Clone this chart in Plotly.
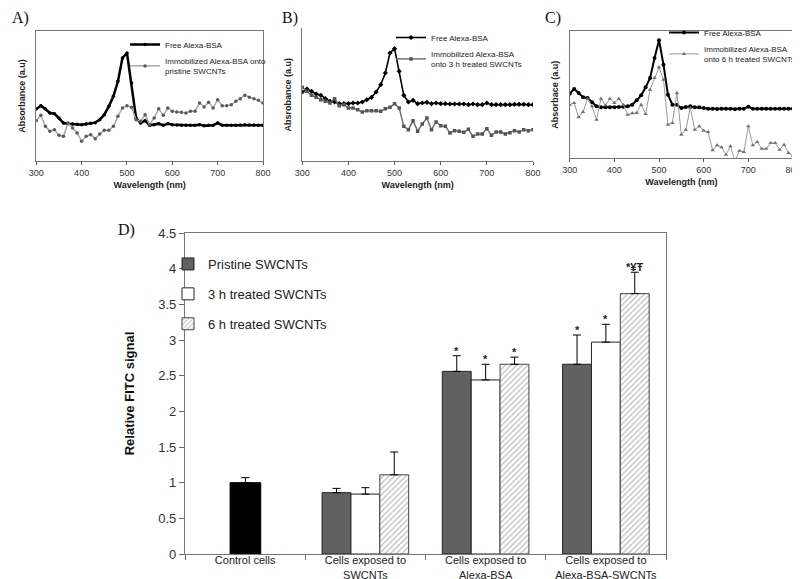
import plotly.graph_objects as go

# ---------------- data ----------------
wavelength = [300, 310, 320, 330, 340, 350, 360, 370, 380, 390, 400, 410, 420, 430, 440, 450,
              460, 470, 480, 490, 500, 510, 520, 530, 540, 550, 560, 570, 580, 590, 600, 610,
              620, 630, 640, 650, 660, 670, 680, 690, 700, 710, 720, 730, 740, 750, 760, 770,
              780, 790, 800]

free_A = [1.57, 1.67, 1.57, 1.45, 1.43, 1.30, 1.15, 1.13, 1.12, 1.11, 1.10, 1.12, 1.14, 1.16, 1.25, 1.40,
          1.65, 1.95, 2.40, 3.10, 3.25, 2.35, 1.30, 1.15, 1.22, 1.08, 1.10, 1.13, 1.08, 1.13, 1.10, 1.09,
          1.08, 1.08, 1.08, 1.08, 1.10, 1.07, 1.08, 1.08, 1.15, 1.08, 1.08, 1.08, 1.08, 1.09, 1.10, 1.09,
          1.09, 1.08, 1.08]
immob_A = [1.22, 1.38, 1.05, 0.90, 0.95, 0.78, 0.75, 1.15, 1.00, 0.85, 0.60, 0.75, 0.80, 0.68, 0.82, 0.93,
           0.93, 1.05, 1.35, 1.60, 1.67, 1.62, 1.25, 1.20, 1.40, 1.10, 1.30, 1.58, 1.38, 1.60, 1.50, 1.48,
           1.47, 1.45, 1.50, 1.50, 1.75, 1.63, 1.77, 1.60, 1.85, 1.67, 1.67, 1.70, 1.80, 1.88, 1.98, 1.92,
           1.88, 1.83, 1.75]

free_B = [2.08, 2.17, 2.10, 2.02, 1.98, 1.88, 1.80, 1.78, 1.73, 1.73, 1.73, 1.75, 1.75, 1.78, 1.85, 1.92,
          2.08, 2.30, 2.65, 3.25, 3.38, 2.70, 1.98, 1.78, 1.83, 1.73, 1.75, 1.77, 1.73, 1.75, 1.73, 1.73,
          1.72, 1.72, 1.72, 1.72, 1.70, 1.72, 1.70, 1.70, 1.75, 1.70, 1.70, 1.70, 1.70, 1.70, 1.71, 1.71,
          1.71, 1.70, 1.70]
immob_B = [2.22, 2.10, 1.98, 1.92, 1.85, 1.80, 1.75, 1.88, 1.67, 1.70, 1.60, 1.60, 1.55, 1.48, 1.52, 1.52,
           1.52, 1.50, 1.58, 1.62, 1.73, 1.60, 1.05, 0.95, 1.22, 0.90, 1.12, 1.30, 0.95, 1.18, 1.07, 1.05,
           0.85, 0.92, 0.90, 0.87, 0.96, 0.75, 0.82, 0.82, 0.98, 0.78, 0.88, 0.88, 0.82, 0.86, 0.92, 0.88,
           0.95, 0.92, 0.95]

free_C = [1.83, 1.97, 1.85, 1.72, 1.70, 1.57, 1.45, 1.42, 1.42, 1.42, 1.42, 1.43, 1.44, 1.45, 1.50, 1.63,
          1.78, 2.02, 2.30, 2.90, 3.43, 2.70, 1.80, 1.50, 1.50, 1.40, 1.43, 1.45, 1.42, 1.42, 1.40, 1.38,
          1.38, 1.37, 1.38, 1.38, 1.38, 1.36, 1.38, 1.38, 1.44, 1.38, 1.38, 1.38, 1.38, 1.38, 1.38, 1.38,
          1.38, 1.38, 1.38]
immob_C = [1.50, 1.55, 1.12, 1.28, 1.68, 1.45, 1.05, 1.68, 1.48, 1.68, 1.55, 1.68, 1.50, 1.20, 1.24, 1.25,
           1.50, 1.22, 1.95, 2.30, 2.62, 2.25, 0.90, 0.95, 1.85, 0.60, 0.75, 1.40, 0.75, 0.85, 0.72, 0.68,
           0.13, 0.28, 0.22, 0.00, 0.25, -0.20, 0.12, 0.08, 0.85, 0.28, 0.38, 0.18, 0.18, 0.35, 0.35, 0.15,
           0.30, 0.05, -0.03]

categories = ["Control cells", "Cells exposed to<br>SWCNTs", "Cells exposed to<br>Alexa-BSA",
              "Cells exposed to<br>Alexa-BSA-SWCNTs"]
control_value = [1.00]
control_err = [0.07]
series_names = ["Pristine SWCNTs", "3 h treated SWCNTs", "6 h treated SWCNTs"]
pristine_vals = [0.86, 2.56, 2.66]
pristine_err = [0.06, 0.22, 0.41]
h3_vals = [0.84, 2.44, 2.97]
h3_err = [0.09, 0.22, 0.25]
h6_vals = [1.11, 2.66, 3.65]
h6_err = [0.32, 0.10, 0.30]
pristine_marks = ["", "*", "*"]
h3_marks = ["", "*", "*"]
h6_marks = ["", "*", "*¥Ŧ"]

# ---------------- figure ----------------
fig = go.Figure()
FONT = "Arial, Liberation Sans, sans-serif"


def spectra(xa, ya, leg, free, immob, free_style, imm_style, imm_name):
    fig.add_trace(go.Scatter(x=wavelength, y=free, mode="lines+markers", name="Free Alexa-BSA",
                             xaxis=xa, yaxis=ya, legend=leg, **free_style))
    fig.add_trace(go.Scatter(x=wavelength, y=immob, mode="lines+markers", name=imm_name,
                             xaxis=xa, yaxis=ya, legend=leg, **imm_style))


spectra("x", "y", "legend", free_A, immob_A,
        dict(line=dict(color="black", width=2.5), marker=dict(color="black", size=3.5, symbol="circle")),
        dict(line=dict(color="#a8a8a8", width=1.5), marker=dict(color="#5a5a5a", size=3.5, symbol="circle")),
        "Immobilized Alexa-BSA onto<br>pristine SWCNTs")
spectra("x2", "y2", "legend2", free_B, immob_B,
        dict(line=dict(color="black", width=1.6), marker=dict(color="black", size=4, symbol="diamond")),
        dict(line=dict(color="#6a6a6a", width=1.4), marker=dict(color="#555555", size=3.5, symbol="square")),
        "Immobilized Alexa-BSA<br>onto 3 h treated SWCNTs")
spectra("x3", "y3", "legend3", free_C, immob_C,
        dict(line=dict(color="black", width=2), marker=dict(color="black", size=4, symbol="circle")),
        dict(line=dict(color="#9a9a9a", width=1), marker=dict(color="#707070", size=4, symbol="triangle-up")),
        "Immobilized Alexa-BSA<br>onto 6 h treated SWCNTs")

# Bar chart D
bar_w = 0.24
fig.add_trace(go.Bar(x=categories[:1], y=control_value, width=0.255, offset=-0.125,
                     marker=dict(color="black", line=dict(color="black", width=1)),
                     error_y=dict(type="data", array=control_err, arrayminus=[0], symmetric=False,
                                  color="black", thickness=1, width=4),
                     showlegend=False, xaxis="x4", yaxis="y4", legend="legend4", name="Control"))
styles = [
    dict(color="#616161", line=dict(color="#222222", width=1)),
    dict(color="white", line=dict(color="#222222", width=1)),
    dict(color="white", line=dict(color="#444444", width=1),
         pattern=dict(shape="/", fgcolor="#777777", bgcolor="white", size=4, solidity=0.3)),
]
offsets = [-0.36, -0.12, 0.12]
for name, vals, errs, st, off in zip(series_names, [pristine_vals, h3_vals, h6_vals],
                                     [pristine_err, h3_err, h6_err], styles, offsets):
    fig.add_trace(go.Bar(x=categories[1:], y=vals, width=bar_w, offset=off, name=name,
                         marker=st, legendgroup=name,
                         error_y=dict(type="data", array=errs, arrayminus=[0] * len(errs), symmetric=False,
                                      color="black", thickness=1, width=4),
                         xaxis="x4", yaxis="y4", legend="legend4"))

annotations = []
for vals, errs, marks, off in zip([pristine_vals, h3_vals, h6_vals], [pristine_err, h3_err, h6_err],
                                  [pristine_marks, h3_marks, h6_marks], offsets):
    for i, (v, e, m) in enumerate(zip(vals, errs, marks)):
        if m:
            annotations.append(dict(x=i + 1 + off + bar_w / 2, y=v + e, xref="x4", yref="y4", text="<b>%s</b>" % m,
                                    showarrow=False, yanchor="bottom", yshift=-3,
                                    font=dict(family=FONT, size=11, color="#222")))

for txt, px, py in [("A)", 2, 10), ("B)", 272, 10), ("C)", 535, 10), ("D)", 108, 222)]:
    annotations.append(dict(text=txt, x=px / 800, y=1 - py / 579, xref="paper", yref="paper",
                            xanchor="left", yanchor="middle", showarrow=False,
                            font=dict(family="Liberation Serif, Times New Roman, serif", size=16, color="#111")))

W, H = 800, 579


def dom_x(a, b):
    return [a / W, b / W]


def dom_y(top, bottom):
    return [1 - bottom / H, 1 - top / H]


def top_xaxis(anchor, dom, mirror):
    return dict(domain=dom, anchor=anchor, range=[300, 800], dtick=100, tick0=300, ticks="outside",
                ticklen=3, tickcolor="#555", showline=True, linecolor="#777", linewidth=1, mirror=mirror,
                showgrid=False, zeroline=False, tickfont=dict(family=FONT, size=9, color="#333"),
                title=dict(text="<b>Wavelength (nm)</b>", font=dict(family=FONT, size=9, color="#222"), standoff=4),
                automargin=False)


def top_yaxis(anchor, dom, rng, title, mirror):
    return dict(domain=dom, anchor=anchor, range=rng, showticklabels=False, ticks="", showline=True,
                linecolor="#777", linewidth=1, mirror=mirror, showgrid=False, zeroline=False,
                title=dict(text="<b>%s</b>" % title, font=dict(family=FONT, size=9, color="#222"), standoff=8),
                automargin=False)


legend_font = dict(family=FONT, size=8, color="#222")
fig.update_layout(
    width=W, height=H, margin=dict(l=0, r=0, t=0, b=0),
    paper_bgcolor="white", plot_bgcolor="white", barmode="overlay",
    showlegend=True,
    xaxis=top_xaxis("y", dom_x(28.3, 255), True),
    yaxis=top_yaxis("x", dom_y(22.7, 153.3), [0, 3.92], "Absorbance (a.u)", True),
    xaxis2=top_xaxis("y2", dom_x(294.3, 525), False),
    yaxis2=top_yaxis("x2", dom_y(20, 153.3), [0, 4.0], "Absrobance (a.u)", False),
    xaxis3=top_xaxis("y3", dom_x(561.7, 785), True),
    yaxis3=top_yaxis("x3", dom_y(23.3, 150), [-0.1, 3.7], "Absorbace (a.u)", True),
    xaxis4=dict(domain=dom_x(177, 658), anchor="y4", type="category", range=[-0.5, 3.5],
                ticks="outside", tickson="boundaries", ticklen=5, tickcolor="#666",
                showline=True, linecolor="#777", linewidth=1.2, mirror=True, showgrid=False,
                ticklabelstandoff=-4,
                tickfont=dict(family=FONT, size=11, color="#222"), automargin=False),
    yaxis4=dict(domain=dom_y(225, 546), anchor="x4", range=[0, 4.5], dtick=0.5, ticks="outside",
                ticklen=5, tickcolor="#666", showline=True, linecolor="#777", linewidth=1.2, mirror=True,
                showgrid=False, zeroline=False, tickfont=dict(family=FONT, size=13, color="#333"),
                title=dict(text="<b>Relative FITC signal</b>", font=dict(family=FONT, size=13, color="#111"),
                           standoff=20), automargin=False),
    legend=dict(x=117 / W, y=1 - 22 / H, xanchor="left", yanchor="top", bgcolor="rgba(0,0,0,0)",
                font=legend_font, tracegroupgap=0, itemwidth=30),
    legend2=dict(x=383 / W, y=1 - 15 / H, xanchor="left", yanchor="top", bgcolor="rgba(0,0,0,0)",
                 font=legend_font, tracegroupgap=0, itemwidth=30),
    legend3=dict(x=656 / W, y=1 - 10 / H, xanchor="left", yanchor="top", bgcolor="rgba(0,0,0,0)",
                 font=legend_font, tracegroupgap=0, itemwidth=30),
    legend4=dict(x=160 / W, y=1 - 241 / H, xanchor="left", yanchor="top", bgcolor="rgba(0,0,0,0)",
                 font=dict(family=FONT, size=13, color="#222"), tracegroupgap=10, itemwidth=30,
                 traceorder="grouped"),
    annotations=annotations,
)

fig.write_html("out.html")
